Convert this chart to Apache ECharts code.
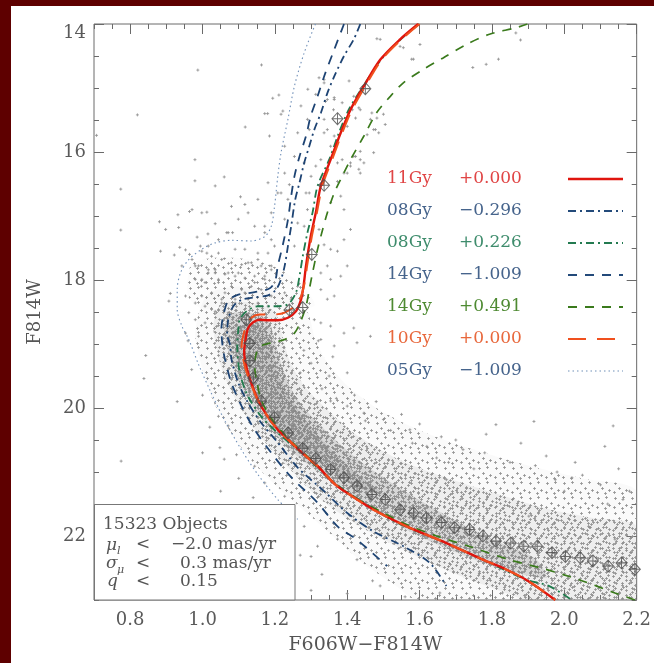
<!DOCTYPE html>
<html><head><meta charset="utf-8">
<script src="https://cdn.jsdelivr.net/npm/echarts@6/dist/echarts.min.js"></script>
<style>html,body{margin:0;padding:0;background:#fff}#c{width:654px;height:663px}</style>
</head><body><div id="c"></div><script>
// ---------- data (colour F606W-F814W, magnitude F814W) ----------
const xTickValues = [0.8, 1.0, 1.2, 1.4, 1.6, 1.8, 2.0, 2.2];
const yTickValues = [14, 16, 18, 20, 22];

const iso11Gy = [[1.596,14.00],[1.546,14.24],[1.491,14.56],[1.446,14.97],[1.409,15.34],[1.382,15.70],[1.354,16.12],[1.327,16.53],[1.313,16.95],[1.299,17.32],[1.286,17.78],[1.279,18.10],[1.272,18.31],[1.258,18.49],[1.236,18.59],[1.208,18.63],[1.181,18.63],[1.158,18.62],[1.140,18.66],[1.126,18.75],[1.119,18.93],[1.115,19.12],[1.121,19.35],[1.135,19.61],[1.153,19.87],[1.176,20.10],[1.208,20.34],[1.245,20.54],[1.281,20.73],[1.318,20.91],[1.364,21.18],[1.400,21.33],[1.473,21.59],[1.564,21.85],[1.674,22.11],[1.775,22.37],[1.838,22.52],[1.902,22.71],[1.975,23.00]];
const iso10Gy = [[1.600,14.00],[1.550,14.24],[1.495,14.56],[1.450,14.97],[1.413,15.34],[1.386,15.70],[1.358,16.12],[1.331,16.53],[1.316,16.95],[1.302,17.32],[1.289,17.78],[1.280,18.10],[1.263,18.36],[1.227,18.51],[1.190,18.54],[1.158,18.54],[1.135,18.59],[1.121,18.72],[1.112,18.88],[1.108,19.03],[1.117,19.35],[1.133,19.61],[1.152,19.87],[1.176,20.10],[1.208,20.34],[1.245,20.54],[1.281,20.73],[1.318,20.91],[1.364,21.18],[1.400,21.33],[1.473,21.59],[1.564,21.85],[1.674,22.11],[1.775,22.37],[1.838,22.52],[1.902,22.71],[1.975,23.00]];
const iso08GyG = [[1.598,14.00],[1.548,14.24],[1.493,14.56],[1.444,14.97],[1.404,15.34],[1.377,15.70],[1.350,16.12],[1.318,16.53],[1.304,16.95],[1.290,17.26],[1.277,17.63],[1.268,17.94],[1.258,18.20],[1.236,18.38],[1.199,18.41],[1.153,18.41],[1.121,18.49],[1.103,18.62],[1.099,18.77],[1.096,19.03],[1.103,19.45],[1.126,19.82],[1.162,20.13],[1.208,20.39],[1.263,20.65],[1.318,20.93],[1.364,21.17],[1.446,21.48],[1.537,21.79],[1.674,22.11],[1.775,22.37],[1.893,22.68],[1.957,22.78],[2.021,23.00]];
const iso08GyB = [[1.436,14.00],[1.418,14.24],[1.391,14.50],[1.364,14.82],[1.345,15.08],[1.327,15.39],[1.309,15.65],[1.295,15.91],[1.281,16.17],[1.268,16.48],[1.256,16.75],[1.245,17.16],[1.236,17.47],[1.227,17.78],[1.217,17.99],[1.203,18.15],[1.181,18.24],[1.144,18.27],[1.108,18.31],[1.085,18.41],[1.071,18.62],[1.068,18.85],[1.076,19.01],[1.080,19.24],[1.099,19.61],[1.126,19.92],[1.162,20.23],[1.208,20.54],[1.263,20.93],[1.336,21.30],[1.400,21.64],[1.473,21.93],[1.555,22.16],[1.628,22.42],[1.674,22.78]];
const iso14GyB = [[1.391,14.00],[1.364,14.40],[1.336,14.82],[1.318,15.13],[1.299,15.44],[1.286,15.75],[1.268,16.07],[1.254,16.38],[1.245,16.69],[1.236,17.06],[1.222,17.45],[1.208,17.78],[1.201,18.01],[1.186,18.13],[1.144,18.19],[1.099,18.23],[1.071,18.32],[1.058,18.54],[1.052,18.77],[1.055,19.01],[1.062,19.24],[1.080,19.61],[1.108,19.97],[1.144,20.34],[1.190,20.70],[1.245,21.08],[1.318,21.48],[1.373,21.85],[1.427,22.06],[1.510,22.47]];
const iso14GyG = [[1.898,14.00],[1.866,14.06],[1.793,14.16],[1.729,14.32],[1.665,14.53],[1.610,14.71],[1.555,14.92],[1.519,15.13],[1.482,15.38],[1.446,15.75],[1.409,16.12],[1.386,16.38],[1.364,16.64],[1.345,16.95],[1.332,17.21],[1.318,17.52],[1.304,17.89],[1.295,18.15],[1.286,18.41],[1.271,18.65],[1.254,18.83],[1.227,18.93],[1.190,18.98],[1.162,19.03],[1.149,19.14],[1.144,19.35],[1.149,19.56],[1.162,19.87],[1.186,20.13],[1.216,20.35],[1.263,20.62],[1.318,20.90],[1.364,21.18],[1.446,21.48],[1.500,21.64],[1.564,21.82],[1.647,22.00],[1.747,22.18],[1.847,22.37],[1.948,22.52],[2.039,22.68],[2.140,22.89],[2.195,23.00]];
const iso05Gy = [[1.312,14.00],[1.281,14.45],[1.254,14.97],[1.236,15.49],[1.217,16.01],[1.208,16.38],[1.199,16.85],[1.190,17.16],[1.172,17.32],[1.135,17.39],[1.080,17.38],[1.035,17.42],[0.998,17.52],[0.962,17.68],[0.939,17.89],[0.930,18.15],[0.930,18.46],[0.943,18.72],[0.962,18.93],[0.989,19.32],[1.022,19.74],[1.060,20.18],[1.104,20.62],[1.153,21.04],[1.208,21.43],[1.263,21.74]];

const ridgePoints = [[1.450,15.01],[1.373,15.48],[1.336,16.52],[1.302,17.60],[1.277,18.43],[1.240,18.47],[1.121,18.62],[1.131,18.99],[1.131,19.26],[1.140,19.53],[1.162,19.89],[1.199,20.15],[1.236,20.39],[1.277,20.63],[1.313,20.79],[1.354,20.96],[1.391,21.09],[1.427,21.22],[1.468,21.35],[1.505,21.43],[1.546,21.59],[1.583,21.64],[1.619,21.72],[1.660,21.79],[1.697,21.87],[1.738,21.90],[1.775,22.00],[1.811,22.08],[1.852,22.11],[1.888,22.16],[1.925,22.16],[1.966,22.26],[2.003,22.32],[2.044,22.34],[2.079,22.39],[2.121,22.47],[2.158,22.42],[2.195,22.52]];

// density envelopes of the 15323-star cloud (sparse -> dense)
const cloudOuter = [[1.02,18.20],[0.99,18.50],[0.98,18.90],[1.00,19.40],[1.03,19.90],[1.08,20.40],[1.14,20.85],[1.21,21.25],[1.29,21.65],[1.37,22.05],[1.45,22.45],[1.54,22.80],[1.59,23.00],[2.20,23.00],[2.20,21.30],[2.05,21.10],[1.90,20.90],[1.75,20.65],[1.60,20.35],[1.48,20.00],[1.40,19.65],[1.34,19.25],[1.31,18.90],[1.29,18.50],[1.24,18.25],[1.12,18.10]];
const cloudSGB = [[0.97,17.75],[1.05,17.65],[1.15,17.70],[1.22,17.85],[1.28,18.10],[1.31,18.40],[1.25,18.45],[1.10,18.35],[1.00,18.45],[0.96,18.25]];
const cloudMid = [[1.05,18.38],[1.03,18.70],[1.04,19.10],[1.06,19.50],[1.10,19.95],[1.16,20.45],[1.24,20.95],[1.32,21.40],[1.42,21.80],[1.55,22.20],[1.68,22.55],[1.82,22.85],[1.90,23.00],[2.20,23.00],[2.20,21.85],[2.08,21.72],[1.95,21.57],[1.82,21.35],[1.68,21.10],[1.54,20.80],[1.42,20.40],[1.34,20.00],[1.28,19.65],[1.24,19.25],[1.22,18.85],[1.20,18.50],[1.14,18.36]];
const cloudCore = [[1.07,18.55],[1.06,18.85],[1.08,19.25],[1.11,19.70],[1.16,20.15],[1.23,20.60],[1.32,21.00],[1.44,21.45],[1.58,21.95],[1.72,22.30],[1.85,22.55],[1.95,22.65],[1.92,22.35],[1.80,22.05],[1.68,21.70],[1.56,21.30],[1.44,20.85],[1.34,20.35],[1.26,19.85],[1.22,19.35],[1.20,18.95],[1.18,18.62],[1.12,18.50]];
const cloudDense = [[1.09,18.75],[1.09,19.10],[1.12,19.60],[1.17,20.05],[1.24,20.50],[1.33,20.90],[1.43,21.25],[1.50,21.35],[1.42,21.00],[1.33,20.50],[1.26,20.00],[1.21,19.50],[1.19,19.00],[1.16,18.70]];

const starsField = [[0.707,15.74],[0.820,15.42],[0.987,14.72],[0.774,16.58],[0.774,17.22],[0.979,16.12],[0.979,16.45],[1.035,16.53],[1.060,16.39],[1.105,16.70],[1.117,16.82],[1.118,15.61],[1.172,15.40],[1.180,15.40],[1.185,15.75],[1.194,15.16],[1.211,15.11],[1.163,14.64],[1.222,15.36],[1.217,15.41],[0.843,19.18],[0.838,19.54],[0.775,20.83],[1.811,20.26],[1.916,20.21],[2.135,20.28],[1.784,20.41],[2.112,20.60],[1.720,20.65],[1.647,20.78],[1.573,20.34],[1.500,20.18],[1.446,20.08],[1.400,19.97],[1.354,19.89]];
const starsRGB = [[1.291,15.02],[1.272,15.28],[1.313,15.10],[1.322,14.84],[1.336,14.87],[1.345,15.18],[1.364,15.18],[1.362,15.34],[1.336,15.49],[1.345,15.65],[1.364,15.75],[1.295,15.65],[1.263,15.70],[1.290,15.49],[1.227,15.91],[1.254,16.07],[1.281,16.17],[1.313,16.22],[1.327,16.12],[1.227,16.33],[1.240,16.51],[1.217,16.64],[1.300,16.38],[1.295,16.64],[1.373,16.17],[1.386,16.12],[1.409,16.22],[1.391,16.33],[1.418,16.07],[1.436,16.12],[1.432,16.27],[1.400,15.60],[1.423,15.47],[1.414,15.34],[1.436,15.34],[1.464,15.49],[1.473,15.65],[1.487,15.70],[1.455,15.73],[1.482,15.47],[1.546,14.35],[1.583,14.55],[1.491,14.24],[1.601,14.32],[1.482,14.23],[1.555,14.37],[1.578,14.55],[1.747,14.68],[1.784,14.63],[1.818,14.55],[1.866,14.14],[1.879,14.25],[1.405,14.89],[1.418,15.13],[1.432,15.31],[1.468,15.39],[1.500,15.41],[1.505,15.57],[1.478,15.65],[1.436,15.99],[1.473,16.01],[1.423,16.07],[1.409,16.17],[1.446,16.17],[1.436,16.33],[1.400,16.33],[1.373,16.46],[1.354,15.91],[1.336,15.70],[1.340,15.21],[1.336,14.92],[1.364,15.15],[1.386,15.23]];
const starsSGB = [[1.181,16.48],[1.208,16.64],[1.286,16.64],[1.290,16.90],[1.281,17.16],[1.322,17.21],[1.336,17.45],[1.354,17.52],[1.373,17.55],[1.345,17.78],[1.327,17.89],[1.354,17.99],[1.382,17.94],[1.327,18.15],[1.345,18.30],[1.364,18.25],[1.400,17.78],[1.391,17.37],[1.409,17.21],[1.391,16.90],[1.382,16.69],[1.354,16.79],[1.309,18.62],[1.327,18.67],[1.354,18.72],[1.391,18.83],[1.418,18.75],[1.427,18.98],[1.464,18.88],[1.364,19.03],[1.327,18.93],[1.172,17.26],[1.144,17.16],[1.099,17.05],[1.071,17.26],[1.044,17.37],[1.016,17.47],[0.998,17.55],[1.025,17.63],[1.053,17.68],[1.080,17.73],[1.108,17.76],[1.135,17.73],[1.162,17.78],[1.190,17.84],[1.172,17.99],[1.144,17.94],[1.117,17.97],[1.090,17.94],[1.062,17.91],[1.035,17.89],[1.016,17.84],[0.989,17.78],[0.971,17.68],[0.980,17.99],[1.007,18.04],[1.044,18.04],[1.080,18.10],[1.108,18.15],[1.135,18.10],[1.162,18.15],[1.190,18.25],[1.227,18.20],[1.245,18.30],[1.263,18.10],[1.181,18.41],[1.153,18.36],[1.126,18.30],[1.090,18.30],[1.053,18.30],[1.025,18.20],[0.998,18.25],[0.980,18.36],[1.007,18.41],[1.035,18.49],[1.071,18.51],[1.208,18.41],[1.254,17.47],[1.199,17.47],[1.227,17.05],[1.263,17.11],[1.190,16.95],[1.236,16.74],[1.153,16.74],[1.126,16.95],[1.080,16.85],[0.998,16.95],[0.971,16.90],[0.932,16.98],[0.964,16.93],[0.881,17.09],[0.898,17.21],[0.934,17.18],[1.012,16.94],[1.035,17.12],[0.985,17.33],[1.015,17.28],[1.067,17.26],[1.083,17.26],[0.884,17.55],[0.922,17.61],[0.937,17.49],[0.953,17.53],[0.964,17.60],[0.994,17.47],[1.012,17.58],[1.090,17.52],[0.911,18.21],[0.907,18.33],[0.953,18.25],[0.997,18.10],[1.044,17.99],[1.016,17.89],[0.980,17.78],[0.943,17.78],[0.962,18.51],[0.980,18.62],[0.953,18.83],[0.989,18.88],[1.007,18.67],[1.025,18.46],[1.053,18.36],[1.099,17.89],[1.126,17.73],[1.153,17.68],[1.181,17.58],[1.190,17.37],[1.172,17.16],[1.153,17.58],[1.117,17.52],[1.044,17.58],[1.071,17.89],[1.035,17.84],[0.998,17.99],[1.062,18.20],[1.090,18.36],[1.117,18.20],[1.144,18.04],[1.172,17.94],[1.190,17.78]];
const starsMS = [[1.044,20.13],[1.048,20.62],[1.094,20.73],[1.071,20.28],[1.144,20.91],[1.172,21.17],[1.227,21.38],[1.208,21.64],[1.281,21.85],[1.674,21.12],[1.857,21.43],[1.902,21.69],[2.067,21.85],[2.140,22.05],[1.975,21.12],[2.021,21.09],[2.162,21.43],[1.491,22.78],[1.656,22.89],[1.765,22.58],[1.829,22.89],[1.373,22.05],[1.427,22.37],[1.318,22.16],[1.300,22.32],[1.30,19.30],[1.35,19.50],[1.42,19.80],[1.48,19.90],[1.55,20.10],[1.60,20.25],[1.66,20.45],[1.70,20.50],[1.78,20.70],[1.85,20.85],[1.92,20.90],[1.98,21.00],[2.05,21.05],[2.10,21.20],[2.18,21.30],[1.52,20.35],[1.62,20.60],[1.88,20.55],[1.95,20.75],[2.03,20.85],[2.15,20.95],[1.37,19.85],[1.45,20.20],[1.75,20.95],[2.00,21.30],[2.12,21.50],[1.68,20.85],[1.58,20.55],[1.33,19.70],[1.28,19.10],[1.32,18.95],[1.36,19.20],[1.40,19.45],[1.27,19.45],[1.00,19.80],[0.97,19.40],[1.02,20.30],[1.06,20.80],[1.10,21.10],[1.14,21.40],[1.18,21.70],[1.22,22.00],[1.27,22.30],[1.33,22.60],[1.40,22.90],[1.05,21.30],[1.12,21.90],[1.20,22.40],[1.30,22.85],[0.96,18.95],[0.93,19.90],[1.00,20.70],[1.47,22.70],[1.56,22.95],[1.25,22.65],[1.16,22.10]];

// ---------- styling helpers ----------
const FONT = 'DejaVu Serif';
const AX = '#6a6a6a';
// stipple tiles (style only): small crosses placed in a tile, like the plotted '+' symbols
function makeTile(w, h, dots, color) {
  const c = document.createElement('canvas');
  c.width = w; c.height = h;
  const g = c.getContext('2d');
  g.fillStyle = color;
  dots.forEach(function (d) { g.fillRect(d[0] - 1, d[1], 3, 1); g.fillRect(d[0], d[1] - 1, 1, 3); });
  return {image: c, repeat: 'repeat'};
}
const tileOuter = makeTile(17, 15, [[3, 3], [11, 2], [7, 8], [14, 10], [2, 12], [10, 13]], 'rgba(145,145,145,0.8)');
const tileMid = makeTile(13, 14, [[2, 2], [8, 4], [5, 9], [11, 11], [10, 1], [2, 12], [6, 6]], 'rgba(145,145,145,0.8)');
const tileCore = makeTile(11, 10, [[2, 2], [7, 1], [5, 5], [9, 6], [2, 7], [7, 8]], 'rgba(140,140,140,0.8)');
const tileDense = makeTile(9, 9, [[1, 1], [5, 2], [3, 5], [7, 6], [1, 7]], 'rgba(135,135,135,0.8)');

const chart = echarts.init(document.getElementById('c'), null, {renderer: 'canvas'});

function polygonSeries(verts, under, pattern, z) {
  return {
    type: 'custom', xAxisIndex: 0, yAxisIndex: 0, z: z, silent: true, animation: false,
    data: verts,
    renderItem: function (params, api) {
      if (params.dataIndex !== 0) return null;
      const pts = verts.map(function (v) { return api.coord(v); });
      const cs = params.coordSys;
      const clip = {type: 'rect', shape: {x: cs.x, y: cs.y, width: cs.width, height: cs.height}};
      return {
        type: 'group',
        clipPath: clip,
        children: [
          {type: 'polygon', shape: {points: pts, smooth: 0.25}, style: {fill: under}},
          {type: 'polygon', shape: {points: pts, smooth: 0.25}, style: {fill: pattern}}
        ]
      };
    }
  };
}
function starSeries(d) {
  return {type: 'scatter', data: d, z: 3, silent: true, animation: false,
    symbol: 'path://M-1,0L1,0M0,-1L0,1', symbolSize: 3,
    itemStyle: {color: 'rgba(0,0,0,0)', borderColor: '#8f8f8f', borderWidth: 1}};
}
function isoSeries(d, color, type, width, z) {
  return {type: 'line', data: d, symbol: 'none', smooth: 0.3, z: z, silent: true, animation: false,
    lineStyle: {color: color, type: type, width: width}};
}

const majorX = {type: 'value', min: 0.7, max: 2.2, gridIndex: 0, splitLine: {show: false}, axisLine: {show: false}};
const rows = [
  {name: '11Gy', val: '+0.000', tc: '#e04545', lc: '#e0150e', dash: null, w: 2.5},
  {name: '08Gy', val: '\u22120.296', tc: '#46648c', lc: '#234a7a', dash: [8, 4, 2, 4], w: 2},
  {name: '08Gy', val: '+0.226', tc: '#3e8c6c', lc: '#237a50', dash: [8, 4, 2, 4], w: 2},
  {name: '14Gy', val: '\u22121.009', tc: '#46648c', lc: '#234a7a', dash: [9, 8], w: 2},
  {name: '14Gy', val: '+0.491', tc: '#4e8a32', lc: '#3a7a1c', dash: [9, 8], w: 2},
  {name: '10Gy', val: '+0.000', tc: '#e8683c', lc: '#f0501e', dash: [18, 11], w: 2},
  {name: '05Gy', val: '\u22121.009', tc: '#46648c', lc: '#6f8fb8', dash: [1.5, 3], w: 1.2}
];
const graphics = [
  {type: 'rect', shape: {x: 0, y: 0, width: 654, height: 6}, style: {fill: '#5e0000'}, z: 100},
  {type: 'rect', shape: {x: 0, y: 0, width: 11, height: 663}, style: {fill: '#5e0000'}, z: 100}
];
rows.forEach(function (r, i) {
  const y = 179 + i * 32;
  graphics.push({type: 'text', x: 387, y: y, z: 100, style: {text: r.name, fill: r.tc, font: '17px "DejaVu Serif"', verticalAlign: 'middle'}});
  graphics.push({type: 'text', x: 459, y: y, z: 100, style: {text: r.val, fill: r.tc, font: '17px "DejaVu Serif"', verticalAlign: 'middle'}});
  graphics.push({type: 'line', z: 100, shape: {x1: 568, y1: y, x2: 623, y2: y}, style: {stroke: r.lc, lineWidth: r.w, lineDash: r.dash}});
});
// inset box
graphics.push({type: 'rect', z: 100, shape: {x: 94.5, y: 504.5, width: 200.5, height: 95.5}, style: {fill: '#fff', stroke: '#777', lineWidth: 1}});
const tf = function (s, it) { return (it ? 'italic ' : '') + s + 'px "DejaVu Serif"'; };
const insetTxt = [
  {x: 103, y: 525, t: '15323 Objects', f: tf(17)},
  {x: 106, y: 546, t: '\u03bc', f: tf(17, true)}, {x: 117, y: 551, t: 'l', f: tf(11, true)},
  {x: 136, y: 545, t: '<', f: tf(17)}, {x: 171, y: 545, t: '\u22122.0 mas/yr', f: tf(17)},
  {x: 106, y: 564, t: '\u03c3', f: tf(17, true)}, {x: 117, y: 570, t: '\u03bc', f: tf(11, true)},
  {x: 136, y: 564, t: '<', f: tf(17)}, {x: 180, y: 564, t: '0.3 mas/yr', f: tf(17)},
  {x: 107, y: 582, t: 'q', f: tf(17, true)},
  {x: 136, y: 582, t: '<', f: tf(17)}, {x: 180, y: 582, t: '0.15', f: tf(17)}
];
insetTxt.forEach(function (o) {
  graphics.push({type: 'text', x: o.x, y: o.y, z: 101, style: {text: o.t, fill: '#555', font: o.f, verticalAlign: 'middle'}});
});

const option = {
  backgroundColor: '#fff',
  animation: false,
  grid: {left: 94, top: 24, width: 548, height: 576, show: true, borderColor: AX, borderWidth: 1, backgroundColor: 'transparent'},
  xAxis: [
    Object.assign({}, majorX, {position: 'bottom',
      name: 'F606W\u2212F814W', nameLocation: 'middle', nameGap: 36,
      nameTextStyle: {fontFamily: FONT, fontSize: 19, color: '#555'},
      axisTick: {inside: true, length: 10, lineStyle: {color: AX}, customValues: xTickValues},
      axisLabel: {customValues: xTickValues, margin: 11, fontFamily: FONT, fontSize: 18, color: '#5a5a5a',
        formatter: function (v) { return Number(v).toFixed(1); }}}),
    Object.assign({}, majorX, {position: 'bottom', interval: 0.05,
      axisTick: {inside: true, length: 5, lineStyle: {color: AX}}, axisLabel: {show: false}}),
    Object.assign({}, majorX, {position: 'top',
      axisTick: {inside: true, length: 10, lineStyle: {color: AX}, customValues: xTickValues},
      axisLabel: {show: false}}),
    Object.assign({}, majorX, {position: 'top', interval: 0.05,
      axisTick: {inside: true, length: 5, lineStyle: {color: AX}}, axisLabel: {show: false}})
  ],
  yAxis: [
    {type: 'value', min: 14, max: 23, inverse: true, position: 'left', splitLine: {show: false}, axisLine: {show: false},
      name: 'F814W', nameLocation: 'middle', nameGap: 50, nameRotate: 90,
      nameTextStyle: {fontFamily: FONT, fontSize: 18, color: '#555'},
      axisTick: {inside: true, length: 10, lineStyle: {color: AX}, customValues: yTickValues},
      axisLabel: {customValues: yTickValues, margin: 8, fontFamily: FONT, fontSize: 18, color: '#5a5a5a',
        verticalAlignMinLabel: 'top'}},
    {type: 'value', min: 14, max: 23, inverse: true, position: 'left', interval: 0.5, splitLine: {show: false}, axisLine: {show: false},
      axisTick: {inside: true, length: 5, lineStyle: {color: AX}}, axisLabel: {show: false}},
    {type: 'value', min: 14, max: 23, inverse: true, position: 'right', splitLine: {show: false}, axisLine: {show: false},
      axisTick: {inside: true, length: 10, lineStyle: {color: AX}, customValues: yTickValues}, axisLabel: {show: false}},
    {type: 'value', min: 14, max: 23, inverse: true, position: 'right', interval: 0.5, splitLine: {show: false}, axisLine: {show: false},
      axisTick: {inside: true, length: 5, lineStyle: {color: AX}}, axisLabel: {show: false}}
  ],
  series: [
    polygonSeries(cloudOuter, 'rgba(150,150,150,0.05)', tileOuter, 1),
    polygonSeries(cloudSGB, 'rgba(150,150,150,0.03)', tileOuter, 1),
    polygonSeries(cloudMid, 'rgba(140,140,140,0.10)', tileMid, 1),
    polygonSeries(cloudCore, 'rgba(130,130,130,0.22)', tileCore, 1),
    polygonSeries(cloudDense, 'rgba(125,125,125,0.20)', tileDense, 1),
    starSeries(starsField), starSeries(starsRGB), starSeries(starsSGB), starSeries(starsMS),
    isoSeries(iso05Gy, '#6f8fb8', [1.5, 3], 1.1, 4),
    isoSeries(iso14GyB, '#1d4373', [9, 8], 1.8, 4),
    isoSeries(iso08GyB, '#1d4373', [8, 4, 2, 4], 1.8, 4),
    isoSeries(iso14GyG, '#3a7a1c', [9, 8], 1.7, 4),
    isoSeries(iso08GyG, '#1f7a4c', [8, 4, 2, 4], 1.8, 4),
    isoSeries(iso11Gy, '#e0150e', 'solid', 2.4, 5),
    isoSeries(iso10Gy, '#f0501e', [18, 11], 2.0, 6),
    {type: 'scatter', data: ridgePoints, z: 7, silent: true, animation: false,
      symbol: 'path://M0,-1L1,0L0,1L-1,0ZM0,-1L0,1M-1,0L1,0', symbolSize: [11, 12],
      itemStyle: {color: 'rgba(0,0,0,0)', borderColor: '#4a4a4a', borderWidth: 1}}
  ],
  graphic: graphics
};
chart.setOption(option);
</script></body></html>
